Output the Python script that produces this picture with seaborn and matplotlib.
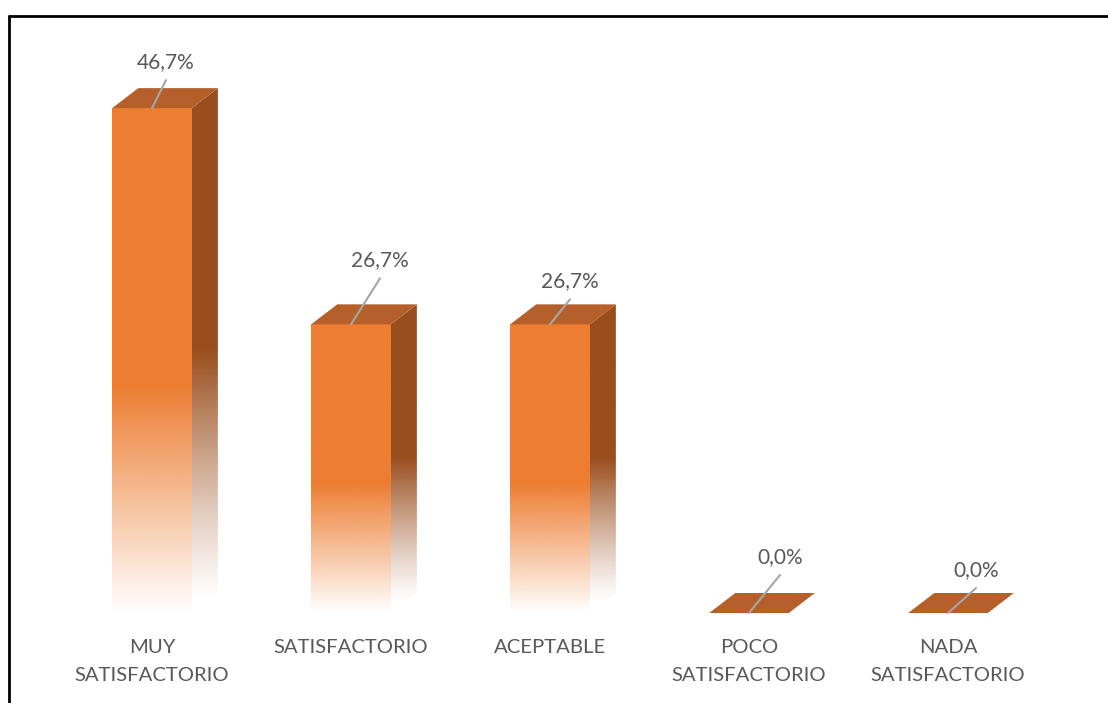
import numpy as np
import pandas as pd
import seaborn as sns
import matplotlib.pyplot as plt
from matplotlib.patches import Polygon
from matplotlib.lines import Line2D

# datos
categorias = ['MUY\nSATISFACTORIO', 'SATISFACTORIO', 'ACEPTABLE',
              'POCO\nSATISFACTORIO', 'NADA\nSATISFACTORIO']
porcentajes = [46.7, 26.7, 26.7, 0.0, 0.0]

# desplazamiento de las etiquetas (pixeles) respecto al centro superior de la barra
offsets = [(14, 46), (29, 64), (20, 43), (31, 56), (28, 43)]

naranja = '#ED7D31'
lateral = '#9A4E1D'
superior = '#B5602A'
gris = '#595959'

sns.set_style('white')
plt.rcParams['font.family'] = ['Lato', 'DejaVu Sans']

df = pd.DataFrame({'cat': categorias, 'pct': porcentajes})

fig = plt.figure(figsize=(11.08, 7.03), dpi=100)
ax = fig.add_axes([52.5 / 1108, 90 / 703, 995 / 1108, 594.6 / 703])

sns.barplot(data=df, x='cat', y='pct', color=naranja, width=0.4,
            saturation=1, ax=ax)

dx, dy = 0.131, 1.85
N = 256
f = np.linspace(0, 1, N)


def degradado(color, alpha):
    img = np.zeros((N, 1, 4))
    img[:, 0, :3] = plt.matplotlib.colors.to_rgb(color)
    img[:, 0, 3] = alpha
    return img


for p, v, (ox, oy) in zip(ax.patches, porcentajes, offsets):
    x0, w, h = p.get_x(), p.get_width(), p.get_height()
    x1 = x0 + w
    p.set_facecolor('none')
    p.set_edgecolor('none')
    if h > 0:
        # cara frontal con degradado
        a = np.clip(f / 0.45, 0, 1)
        ax.imshow(degradado(naranja, a), extent=(x0, x1, 0, h), origin='lower',
                  aspect='auto', interpolation='bilinear', zorder=3)
        # cara lateral
        lado = Polygon([(x1, 0), (x1 + dx, dy), (x1 + dx, h + dy), (x1, h)],
                       closed=True, facecolor='none', edgecolor='none')
        ax.add_patch(lado)
        a2 = np.clip((f * (h + dy) - dy * 0.5) / (0.5 * h), 0, 1) ** 1.2
        im = ax.imshow(degradado(lateral, a2), extent=(x1, x1 + dx, 0, h + dy),
                       origin='lower', aspect='auto', interpolation='bilinear',
                       zorder=2)
        im.set_clip_path(lado)
    # cara superior
    ax.add_patch(Polygon([(x0, h), (x0 + dx, h + dy), (x1 + dx, h + dy), (x1, h)],
                         closed=True, facecolor=superior, edgecolor='none',
                         zorder=4))
    xc = x0 + w / 2
    txt = f'{v:.1f}'.replace('.', ',') + '%'
    ax.annotate('', xy=(xc, h), xytext=(ox, oy - 18), textcoords='offset pixels',
                arrowprops=dict(arrowstyle='-', color='#A6A6A6', lw=1.5,
                                shrinkA=0, shrinkB=0), zorder=5)
    ax.annotate(txt, xy=(xc, h), xytext=(ox, oy), textcoords='offset pixels',
                ha='center', va='center', fontsize=15, color=gris, zorder=5,
                annotation_clip=False)

ax.set_xlim(-0.5, 4.5)
ax.set_ylim(0, 55)
ax.set_xlabel('')
ax.set_ylabel('')
ax.set_yticks([])
ax.tick_params(axis='x', length=0, pad=19, labelsize=14.6, labelcolor=gris)
for t in ax.get_xticklabels():
    t.set_linespacing(1.75)
sns.despine(ax=ax, left=True, bottom=True)

# marco
fig.add_artist(Line2D([9 / 1108, 1.0], [1 - 16 / 703] * 2, color='black', lw=2))
fig.add_artist(Line2D([9 / 1108] * 2, [0, 1 - 16 / 703], color='black', lw=2))

fig.savefig('out.png', dpi=100)
